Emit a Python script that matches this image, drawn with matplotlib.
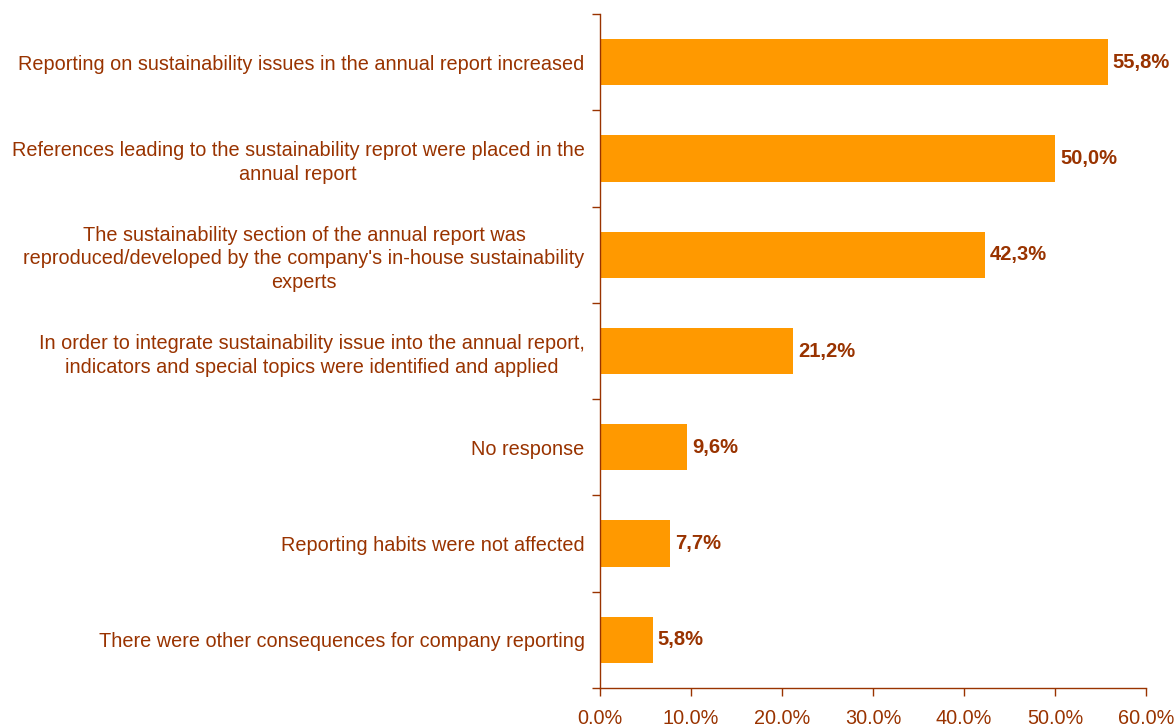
import matplotlib
matplotlib.use("Agg")
import matplotlib.pyplot as plt
import numpy as np

categories = [
    "Reporting on sustainability issues in the annual report increased",
    "References leading to the sustainability reprot were placed in the\nannual report",
    "The sustainability section of the annual report was\nreproduced/developed by the company's in-house sustainability\nexperts",
    "In order to integrate sustainability issue into the annual report,\nindicators and special topics were identified and applied",
    "No response",
    "Reporting habits were not affected",
    "There were other consequences for company reporting",
]
values = [55.8, 50.0, 42.3, 21.2, 9.6, 7.7, 5.8]
xticks = [0, 10, 20, 30, 40, 50, 60]

BAR = "#FF9900"
TXT = "#993300"

plt.rcParams['font.family'] = ['Liberation Sans', 'DejaVu Sans']

fig = plt.figure(figsize=(11.76, 7.24), dpi=100)
ax = fig.add_axes([600 / 1176, 1 - 688 / 724, 546 / 1176, 674 / 724])

n = len(categories)
pos = np.arange(n)
ax.barh(pos, values, height=0.48, color=BAR, zorder=2)
ax.set_ylim(n - 0.5, -0.5)
ax.set_xlim(0, 60)

for p, v in zip(pos, values):
    ax.text(v + 0.55, p, f"{v:.1f}%".replace(".", ","), va="center", ha="left",
            color=TXT, fontsize=14.5, fontweight="bold")

# category labels centred between the category boundaries
ax.set_yticks(pos)
ax.set_yticklabels(categories, multialignment="center", linespacing=1.3)
ax.set_yticks(np.arange(-0.5, n, 1), minor=True)
ax.tick_params(axis="y", which="major", length=0, pad=11, labelsize=14.3, labelcolor=TXT)
ax.tick_params(axis="y", which="minor", length=6, color=TXT, width=1)

ax.set_xticks(xticks)
ax.set_xticklabels([f"{t:.1f}%".replace(".", ",") for t in xticks])
ax.tick_params(axis="x", length=6, color=TXT, width=1, pad=9, labelsize=14.3, labelcolor=TXT)

for s in ["top", "right"]:
    ax.spines[s].set_visible(False)
for s in ["left", "bottom"]:
    ax.spines[s].set_color(TXT)
    ax.spines[s].set_linewidth(1)

fig.savefig("out.png", dpi=100)
